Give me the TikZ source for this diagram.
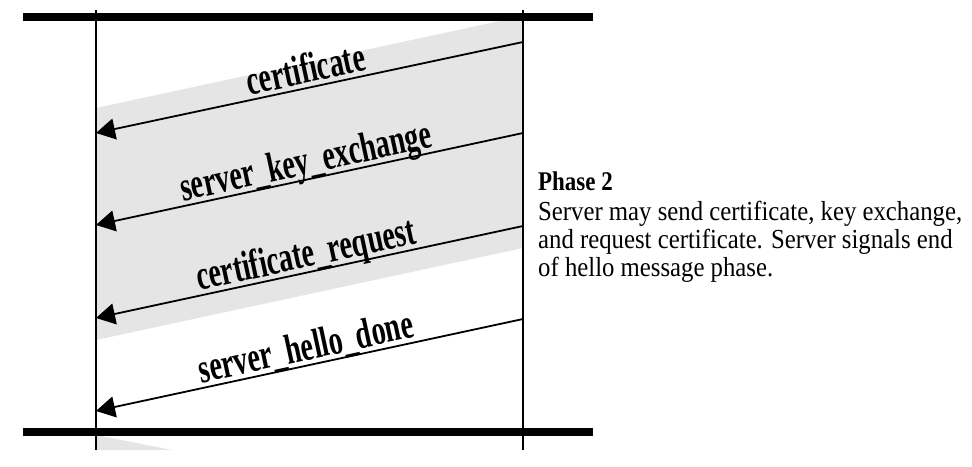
\documentclass[tikz,border=0pt]{standalone}
\usepackage{fontspec}
\setmainfont{Liberation Serif}
\usepackage{graphicx}
\usetikzlibrary{arrows.meta,calc}
\begin{document}
\begin{tikzpicture}[x=1pt,y=-1pt,
  bar/.style={line width=8pt},
  life/.style={line width=1.5pt},
  msg/.style={line width=1.8pt,-{Triangle[length=19pt,width=21pt]}},
  shade/.style={fill=black!10,draw=none},
  lbl/.style={anchor=base,rotate=12.16,inner sep=0pt,font=\bfseries\fontsize{42}{42}\selectfont},
  note/.style={anchor=base west,inner sep=0pt,font=\fontsize{27.5}{27.5}\selectfont}]
\useasboundingbox (0,0) rectangle (972,466);
% shaded regions
\fill[shade] (96,108) -- (523,16) -- (523,248) -- (96,340) -- cycle;
\fill[shade] (96,435) -- (172,450) -- (96,450) -- cycle;
% coordinates
\coordinate (lt) at (96,10);  \coordinate (lb) at (96,450);
\coordinate (rt) at (523,10); \coordinate (rb) at (523,450);
\coordinate (b1l) at (23,17);   \coordinate (b1r) at (593,17);
\coordinate (b2l) at (23,431.5); \coordinate (b2r) at (593,431.5);
\coordinate (s1) at (523,42);  \coordinate (c1) at (96,133);
\coordinate (s2) at (523,133); \coordinate (c2) at (96,225);
\coordinate (s3) at (523,226); \coordinate (c3) at (96,318);
\coordinate (s4) at (523,319); \coordinate (c4) at (96,411);
% lifelines and bars
\draw[life] (lt) -- (lb);
\draw[life] (rt) -- (rb);
\draw[bar] (b1l) -- (b1r);
\draw[bar] (b2l) -- (b2r);
% messages
\draw[msg] (s1) -- (c1);
\draw[msg] (s2) -- (c2);
\draw[msg] (s3) -- (c3);
\draw[msg] (s4) -- (c4);
\node[lbl] (l1) at ($(s1)!0.5!(c1)+(-1.05,-4.9)$) {\scalebox{0.67}[1]{certificate}};
\node[lbl] (l2) at ($(s2)!0.5!(c2)+(-1.05,-4.9)$) {\scalebox{0.67}[1]{server\_key\_exchange}};
\node[lbl] (l3) at ($(s3)!0.5!(c3)+(-1.05,-4.9)$) {\scalebox{0.67}[1]{certificate\_request}};
\node[lbl] (l4) at ($(s4)!0.5!(c4)+(-1.05,-4.9)$) {\scalebox{0.67}[1]{server\_hello\_done}};
% description
\node[note,font=\bfseries\fontsize{27}{27}\selectfont] (ph) at (538,190) {\scalebox{0.85}[1]{Phase 2}};
\node[note] (t1) at (538,220) {\scalebox{0.9}[1]{Server may send certificate, key exchange,}};
\node[note] (t2) at (538,248) {\scalebox{0.9}[1]{and request certificate. Server signals end}};
\node[note] (t3) at (538,276) {\scalebox{0.9}[1]{of hello message phase.}};
\end{tikzpicture}
\end{document}
